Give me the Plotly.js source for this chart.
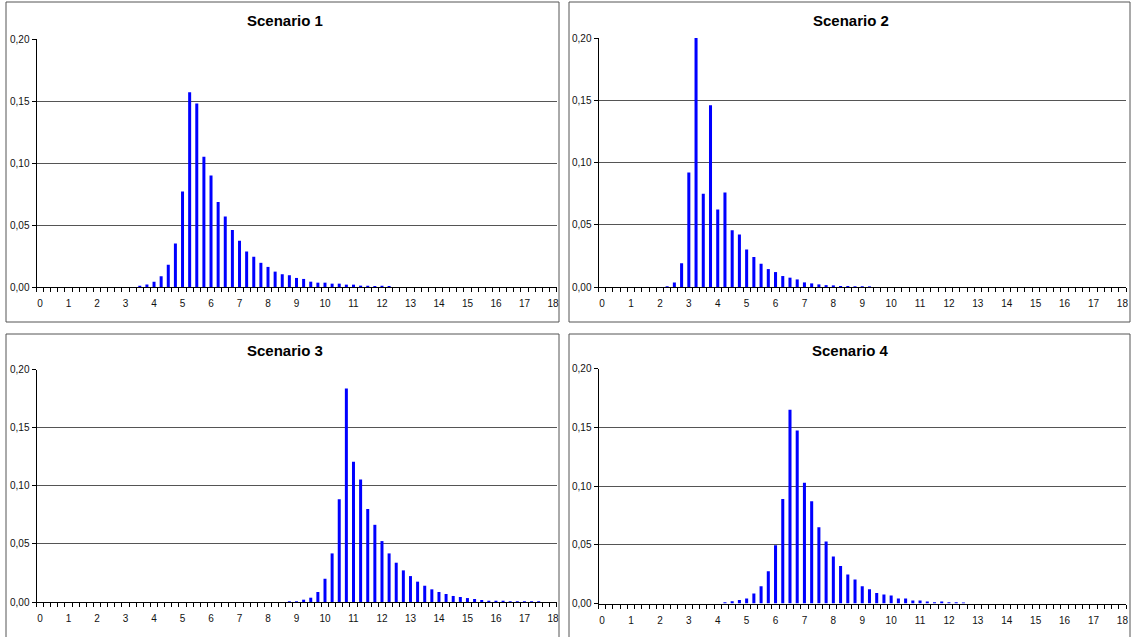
<!DOCTYPE html>
<html>
<head>
<meta charset="utf-8">
<script src="https://cdn.plot.ly/plotly-3.0.1.min.js"></script>
<style>
  html, body { margin: 0; padding: 0; background: #ffffff; }
  #chart { width: 1132px; height: 637px; }
</style>
</head>
<body>
<div id="chart"></div>
<script>
// Category bins (0 to 18 in quarter steps)
const bins = [0,0.25,0.5,0.75,1,1.25,1.5,1.75,2,2.25,2.5,2.75,3,3.25,3.5,3.75,4,4.25,4.5,4.75,
  5,5.25,5.5,5.75,6,6.25,6.5,6.75,7,7.25,7.5,7.75,8,8.25,8.5,8.75,9,9.25,9.5,9.75,
  10,10.25,10.5,10.75,11,11.25,11.5,11.75,12,12.25,12.5,12.75,13,13.25,13.5,13.75,14,14.25,14.5,14.75,
  15,15.25,15.5,15.75,16,16.25,16.5,16.75,17,17.25,17.5,17.75,18];

const titles = ["Scenario 1", "Scenario 2", "Scenario 3", "Scenario 4"];

const scenario1 = [0,0,0,0,0,0,0,0,0,0,0,0,0,0,
  0.001,0.002,0.0043,0.0086,0.018,0.035,0.077,0.157,0.148,0.105,0.090,0.0686,0.0568,0.046,0.0373,0.0286,
  0.0243,0.0195,0.0162,0.0124,0.0103,0.0095,0.0073,0.0065,0.0043,0.0035,0.0035,0.0027,0.0027,0.0019,0.0019,0.0011,
  0.001,0.0008,0.001,0.0008,
  0,0,0,0,0,0,0,0,0,0,0,0,0,0,0,0,0,0,0,0,0,0,0];

const scenario2 = [0,0,0,0,0,0,0,0,0,
  0.0006,0.0037,0.019,0.092,0.201,0.075,0.146,0.0623,0.076,0.0455,0.0422,0.0302,0.024,0.0187,0.0144,0.012,
  0.0088,0.0075,0.0061,0.0037,0.0029,0.0021,0.0015,0.0013,0.0008,0.0008,0.0006,0.0006,0.0005,
  0,0,0,0,0,0,0,0,0,0,0,0,0,0,0,0,0,0,0,0,0,0,0,0,0,0,0,0,0,0,0,0,0,0,0];

const scenario3 = [0,0,0,0,0,0,0,0,0,0,0,0,0,0,0,0,0,0,0,0,0,0,0,0,0,0,0,0,0,0,0,0,0,0,0,
  0.0006,0.0006,0.002,0.0037,0.0086,0.020,0.0418,0.0884,0.1837,0.1207,0.1053,0.0801,0.0664,0.0524,0.0418,0.0338,
  0.0272,0.0223,0.0175,0.014,0.0109,0.0086,0.0069,0.0052,0.0043,0.0034,0.0026,0.0017,0.0011,0.0011,0.0011,0.0006,
  0.0006,0.0006,0.0006,0.0006,
  0,0];

const scenario4 = [0,0,0,0,0,0,0,0,0,0,0,0,0,0,0,0,0,
  0.001,0.002,0.003,0.0043,0.0085,0.0147,0.0275,0.0496,0.089,0.1649,0.1473,0.1028,0.087,0.0649,0.0527,0.040,
  0.032,0.0246,0.0204,0.0147,0.0122,0.009,0.0076,0.0068,0.0042,0.0042,0.0025,0.0025,0.0017,0.001,0.0017,0.001,
  0.001,0.0008,
  0,0,0,0,0,0,0,0,0,0,0,0,0,0,0,0,0,0,0,0,0,0];

const xTickVals = [0,1,2,3,4,5,6,7,8,9,10,11,12,13,14,15,16,17,18];
const xTickText = ["0","1","2","3","4","5","6","7","8","9","10","11","12","13","14","15","16","17","18"];
const yTickVals = [0, 0.05, 0.10, 0.15, 0.20];

const series = [scenario1, scenario2, scenario3, scenario4];

const W = 1132, H = 637;
// plot-area boxes in pixels: [left, right, top, bottom]
const boxes = [
  [36.5, 556.5, 39, 287],
  [598.5, 1126, 38, 287],
  [36.5, 556.5, 369.5, 602],
  [598.5, 1126, 368.5, 603.5]
];
// panel frames in pixels: [left, right, top, bottom]
const frames = [
  [6, 559, 2, 322],
  [569, 1130, 2, 322],
  [6, 559, 334, 645],
  [569, 1130, 334, 645]
];
const titleY = [21, 21, 351, 351];

const font = "Liberation Sans, Arial, sans-serif";
const traces = [];
const layout = {
  width: W, height: H,
  margin: {l: 0, r: 0, t: 0, b: 0},
  paper_bgcolor: "#ffffff",
  plot_bgcolor: "#ffffff",
  showlegend: false,
  separators: ",.",
  bargap: 0.58,
  font: {family: font, size: 10, color: "#111"},
  annotations: [],
  shapes: []
};

series.forEach((vals, i) => {
  const n = i + 1;
  const xa = n === 1 ? "x" : "x" + n;
  const ya = n === 1 ? "y" : "y" + n;
  traces.push({
    type: "bar",
    x: bins,
    y: vals,
    xaxis: xa, yaxis: ya,
    marker: {color: "#0000ff", line: {width: 0}},
    hoverinfo: "x+y"
  });
  const b = boxes[i];
  layout["xaxis" + (n === 1 ? "" : n)] = {
    domain: [b[0] / W, b[1] / W],
    anchor: ya,
    range: [-0.125, 18.125],
    tickmode: "array",
    tickvals: xTickVals,
    ticktext: xTickText,
    ticks: "",
    ticklabelstandoff: 7,
    showgrid: false,
    zeroline: false,
    showline: true,
    linecolor: "#000",
    linewidth: 1,
    tickfont: {family: font, size: 10, color: "#111"},
    minor: {tick0: -0.125, dtick: 0.25, ticks: "outside", ticklen: 4, tickcolor: "#000", tickwidth: 1, showgrid: false},
    fixedrange: true
  };
  layout["yaxis" + (n === 1 ? "" : n)] = {
    domain: [1 - b[3] / H, 1 - b[2] / H],
    anchor: xa,
    range: [0, 0.2],
    tickmode: "array",
    tickvals: yTickVals,
    tickformat: ".2f",
    ticks: "outside",
    ticklen: 4,
    tickcolor: "#000",
    showgrid: true,
    gridcolor: "#555",
    gridwidth: 1,
    zeroline: false,
    showline: true,
    linecolor: "#000",
    linewidth: 1,
    tickfont: {family: font, size: 10, color: "#111"},
    fixedrange: true
  };
  const f = frames[i];
  layout.shapes.push({
    type: "rect", xref: "paper", yref: "paper",
    x0: f[0] / W, x1: f[1] / W, y0: 1 - f[3] / H, y1: 1 - f[2] / H,
    line: {color: "#555", width: 1}, fillcolor: "rgba(0,0,0,0)", layer: "below"
  });
  layout.annotations.push({
    text: "<b>" + titles[i] + "</b>",
    xref: "paper", yref: "paper",
    x: ((b[0] + b[1]) / 2 - 11.5) / W, y: 1 - titleY[i] / H,
    xanchor: "center", yanchor: "middle",
    showarrow: false,
    font: {family: font, size: 15, color: "#000"}
  });
});

Plotly.newPlot("chart", traces, layout, {displayModeBar: false, staticPlot: true});
</script>
</body>
</html>
